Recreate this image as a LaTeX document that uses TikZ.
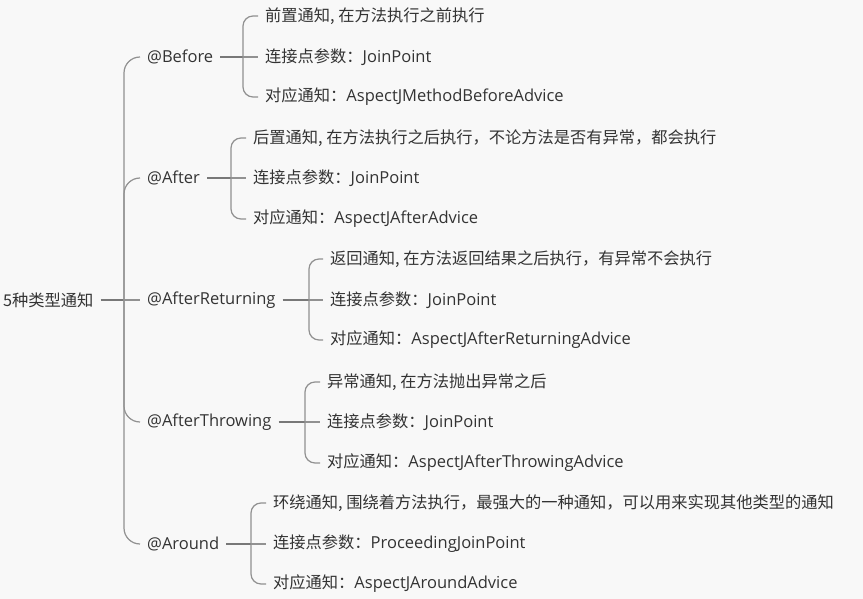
\documentclass[tikz,border=0pt]{standalone}
\usepackage{fontspec}
\setmainfont{Open Sans}
\newfontfamily\cjk[Scale=0.985]{Noto Sans CJK SC}
\usetikzlibrary{positioning}
\definecolor{bgcolor}{RGB}{248,248,248}
\definecolor{txtcolor}{RGB}{51,51,51}
\definecolor{linecolor}{RGB}{145,145,145}
\definecolor{stemcolor}{RGB}{120,120,120}
\newcommand{\zh}[1]{{\cjk #1}}

\begin{document}
\begin{tikzpicture}[x=1pt, y=-1pt,
    topic/.style={text=txtcolor, font=\fontsize{16.5}{19}\selectfont, inner xsep=7pt, inner ysep=2pt, anchor=west},
    stem/.style={stemcolor, line width=1.8pt},
    branch/.style={linecolor, line width=1.2pt, rounded corners=10pt}]
    \fill[bgcolor] (0,0) rectangle (863,599);
    \useasboundingbox (0,0) rectangle (863,599);
    % root and trunk
    \node[topic] (root) at (-4,300) {\zh{5种类型通知}};
    \coordinate (trunk) at (124,300);
    \draw[stem] (root.east) -- (trunk);
    \node[topic] (before) at (140,57) {@Before};
    \node[topic] (after) at (140,178) {@After};
    \node[topic] (areturn) at (140,300) {@AfterReturning};
    \node[topic] (athrow) at (140,422) {@AfterThrowing};
    \node[topic] (around) at (140,544) {@Around};
    \draw[branch, rounded corners=16pt] (trunk) |- (before.west);
    \draw[branch, rounded corners=16pt] (trunk) |- (after.west);
    \draw[branch] (trunk) -- (areturn.west);
    \draw[branch, rounded corners=16pt] (trunk) |- (athrow.west);
    \draw[branch, rounded corners=16pt] (trunk) |- (around.west);
    % @Before
    \coordinate (bj) at (243,57);
    \node[topic] (b1) at (258,16) {\zh{前置通知, 在方法执行之前执行}};
    \node[topic] (b2) at (258,57) {\zh{连接点参数：}JoinPoint};
    \node[topic] (b3) at (258,97) {\zh{对应通知：}AspectJMethodBeforeAdvice};
    \draw[stem] (before.east) -- (bj);
    \draw[branch] (bj) |- (b1.west);
    \draw[branch] (bj) -- (b2.west);
    \draw[branch] (bj) |- (b3.west);
    % @After
    \coordinate (aj) at (231,178);
    \node[topic] (a1) at (246,138) {\zh{后置通知, 在方法执行之后执行，不论方法是否有异常，都会执行}};
    \node[topic] (a2) at (246,178) {\zh{连接点参数：}JoinPoint};
    \node[topic] (a3) at (246,219) {\zh{对应通知：}AspectJAfterAdvice};
    \draw[stem] (after.east) -- (aj);
    \draw[branch] (aj) |- (a1.west);
    \draw[branch] (aj) -- (a2.west);
    \draw[branch] (aj) |- (a3.west);
    % @AfterReturning
    \coordinate (rj) at (309,300);
    \node[topic] (r1) at (323,259) {\zh{返回通知, 在方法返回结果之后执行，有异常不会执行}};
    \node[topic] (r2) at (323,300) {\zh{连接点参数：}JoinPoint};
    \node[topic] (r3) at (323,340) {\zh{对应通知：}AspectJAfterReturningAdvice};
    \draw[stem] (areturn.east) -- (rj);
    \draw[branch] (rj) |- (r1.west);
    \draw[branch] (rj) -- (r2.west);
    \draw[branch] (rj) |- (r3.west);
    % @AfterThrowing
    \coordinate (tj) at (305,422);
    \node[topic] (t1) at (320,382) {\zh{异常通知, 在方法抛出异常之后}};
    \node[topic] (t2) at (320,422) {\zh{连接点参数：}JoinPoint};
    \node[topic] (t3) at (320,463) {\zh{对应通知：}AspectJAfterThrowingAdvice};
    \draw[stem] (athrow.east) -- (tj);
    \draw[branch] (tj) |- (t1.west);
    \draw[branch] (tj) -- (t2.west);
    \draw[branch] (tj) |- (t3.west);
    % @Around
    \coordinate (oj) at (251,544);
    \node[topic] (o1) at (266,503) {\zh{环绕通知, 围绕着方法执行，最强大的一种通知，可以用来实现其他类型的通知}};
    \node[topic] (o2) at (266,544) {\zh{连接点参数：}ProceedingJoinPoint};
    \node[topic] (o3) at (266,584) {\zh{对应通知：}AspectJAroundAdvice};
    \draw[stem] (around.east) -- (oj);
    \draw[branch] (oj) |- (o1.west);
    \draw[branch] (oj) -- (o2.west);
    \draw[branch] (oj) |- (o3.west);
\end{tikzpicture}
\end{document}
